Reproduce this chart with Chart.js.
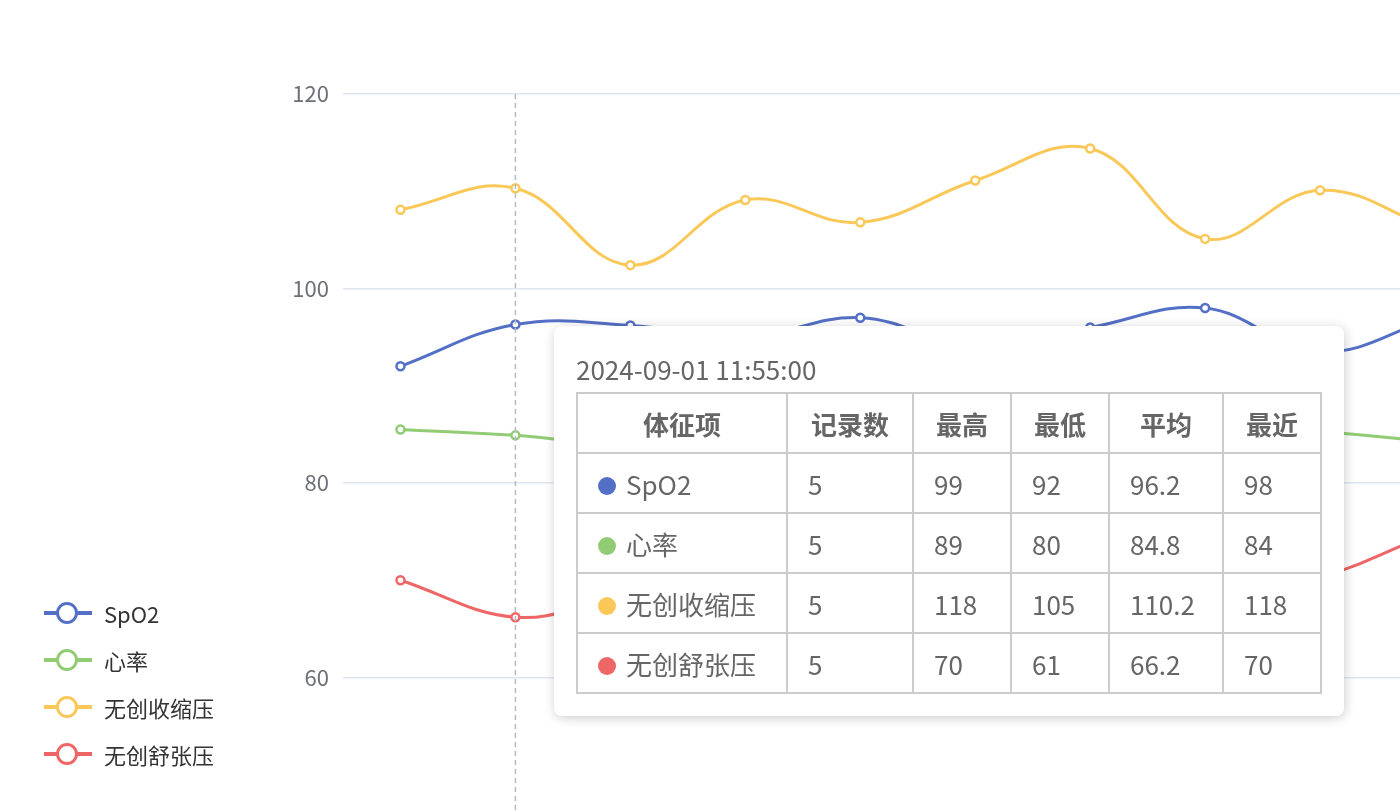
<!DOCTYPE html>
<html lang="zh">
<head>
<meta charset="UTF-8">
<title>体征趋势</title>
<style>
    body { margin: 0; background: #fff; overflow: hidden; width: 1400px; height: 811px; position: relative;
        font-family: "Noto Sans CJK SC", "Noto Sans", sans-serif; }
    .chart-box { position: absolute; left: 0; top: 0; width: 1500px; height: 910px; }
    .legend { position: absolute; left: 44px; top: 589px; }
    .legend div { height: 47px; display: flex; align-items: center; font-size: 22px; color: #333; }
    .legend .mk { position: relative; width: 48px; height: 20px; margin-right: 12px; }
    .legend .mk i { position: absolute; left: 0; top: 8px; width: 48px; height: 4px; }
    .legend .mk b { position: absolute; left: 12px; top: -1px; width: 16px; height: 16px; border-radius: 50%;
        border: 3px solid; background: #fff; }
    #tip { position: absolute; display: none; background: #fff; border-radius: 8px; padding: 20px 22px 22px 22px;
        box-shadow: 1px 2px 12px rgba(0,0,0,0.2); color: #666; }
    #tip .ttl { font-size: 26px; line-height: 46px; }
    #tip table { border-collapse: collapse; font-size: 26px; table-layout: fixed; }
    #tip td, #tip th { border: 2px solid #ccc; height: 60px; padding: 0 20px; text-align: left; box-sizing: border-box; }
    #tip th { text-align: center; font-weight: bold; }
    #tip .dot { display: inline-block; width: 18px; height: 18px; border-radius: 50%; margin-right: 10px; }
</style>
</head>
<body>
<div class="chart-box"><canvas id="vitals"></canvas></div>
<div class="legend" id="legend"></div>
<div id="tip"></div>

<script src="https://cdn.jsdelivr.net/npm/chart.js"></script>
<script>
    // 数据
    const times = ['2024-09-01 11:50:00', '2024-09-01 11:55:00', '2024-09-01 12:00:00', '2024-09-01 12:05:00',
        '2024-09-01 12:10:00', '2024-09-01 12:15:00', '2024-09-01 12:20:00', '2024-09-01 12:25:00',
        '2024-09-01 12:30:00', '2024-09-01 12:35:00'];
    const seriesNames = ['SpO2', '心率', '无创收缩压', '无创舒张压'];
    const seriesColors = ['#5470c6', '#91cc75', '#fac858', '#ee6666'];
    const spo2 = [92, 96.3, 96.2, 95, 97, 94, 96, 98, 93.5, 97];
    const heartRate = [85.5, 84.9, 84, 86, 83, 85, 87, 86, 85.3, 84.2];
    const systolic = [108.1, 110.3, 102.4, 109.1, 106.8, 111.1, 114.4, 105.1, 110.1, 106];
    const diastolic = [70, 66.2, 68, 65, 67, 69, 66, 68, 70.3, 75];
    const yTicks = [40, 60, 80, 100, 120];

    // 提示框统计
    const statHeaders = ['体征项', '记录数', '最高', '最低', '平均', '最近'];
    const statCount = [5, 5, 5, 5];
    const statMax = [99, 89, 118, 70];
    const statMin = [92, 80, 105, 61];
    const statAvg = [96.2, 84.8, 110.2, 66.2];
    const statLast = [98, 84, 118, 70];
    const colWidths = [210, 126, 98, 98, 114, 98];

    const allData = [spo2, heartRate, systolic, diastolic];

    Chart.defaults.font.family = '"Noto Sans CJK SC", "Noto Sans", sans-serif';

    // 图例
    document.getElementById('legend').innerHTML = seriesNames.map((n, i) =>
        `<div><span class="mk"><i style="background:${seriesColors[i]}"></i><b style="border-color:${seriesColors[i]}"></b></span>${n}</div>`
    ).join('');

    function externalTip(context) {
        const tip = document.getElementById('tip');
        const t = context.tooltip;
        if (t.opacity === 0) { tip.style.display = 'none'; return; }
        let html = `<div class="ttl">${t.title[0]}</div><table><tr>` +
            statHeaders.map((h, j) => `<th style="width:${colWidths[j]}px">${h}</th>`).join('') + '</tr>';
        seriesNames.forEach((n, i) => {
            html += `<tr><td><span class="dot" style="background:${seriesColors[i]}"></span>${n}</td>` +
                `<td>${statCount[i]}</td><td>${statMax[i]}</td><td>${statMin[i]}</td><td>${statAvg[i]}</td><td>${statLast[i]}</td></tr>`;
        });
        html += '</table>';
        tip.innerHTML = html;
        tip.style.display = 'block';
        tip.style.left = '554px';
        tip.style.top = '326px';
    }

    // 竖直虚线指示
    const crosshair = {
        id: 'crosshair',
        afterDatasetsDraw(chart) {
            const act = chart.tooltip.getActiveElements();
            if (!act.length) return;
            const x = chart.scales.x.getPixelForValue(act[0].index);
            const ctx = chart.ctx;
            ctx.save();
            ctx.strokeStyle = '#b6b9c6';
            ctx.lineWidth = 1.5;
            ctx.setLineDash([5, 4]);
            ctx.beginPath();
            ctx.moveTo(x, chart.chartArea.top);
            ctx.lineTo(x, chart.chartArea.bottom);
            ctx.stroke();
            ctx.restore();
        }
    };

    const ctx = document.getElementById('vitals').getContext('2d');
    const chart = new Chart(ctx, {
        type: 'line',
        data: {
            labels: times,
            datasets: allData.map((d, i) => ({
                label: seriesNames[i],
                data: d,
                borderColor: seriesColors[i],
                backgroundColor: '#fff',
                pointBorderColor: seriesColors[i],
                pointBackgroundColor: '#fff',
                borderWidth: 3,
                pointRadius: 4,
                pointBorderWidth: 2.5,
                pointHoverRadius: 5,
                tension: 0.4,
                fill: false
            }))
        },
        options: {
            responsive: true,
            maintainAspectRatio: false,
            animation: false,
            layout: { padding: { top: 94, left: 0, right: 0, bottom: 0 } },
            plugins: {
                legend: { display: false },
                tooltip: { enabled: false, mode: 'index', intersect: false, external: externalTip }
            },
            interaction: { mode: 'index', intersect: false },
            scales: {
                x: {
                    offset: true,
                    grid: { display: false },
                    border: { color: '#6e7079' },
                    ticks: { color: '#6e7079', font: { size: 20 }, callback: (v, i) => times[i].slice(11, 16) }
                },
                y: {
                    min: yTicks[0],
                    max: yTicks[yTicks.length - 1],
                    afterFit: s => { s.width = 343; },
                    afterBuildTicks: s => { s.ticks = yTicks.map(v => ({ value: v })); },
                    grid: { color: '#e0e6f1', lineWidth: 1.5, drawTicks: false },
                    border: { display: false },
                    ticks: { color: '#6e7079', font: { size: 22 }, padding: 14 }
                }
            }
        },
        plugins: [crosshair]
    });

    chart.tooltip.setActiveElements(
        allData.map((d, i) => ({ datasetIndex: i, index: 1 })),
        { x: chart.scales.x.getPixelForValue(1), y: 300 }
    );
    chart.update();
</script>
</body>
</html>
